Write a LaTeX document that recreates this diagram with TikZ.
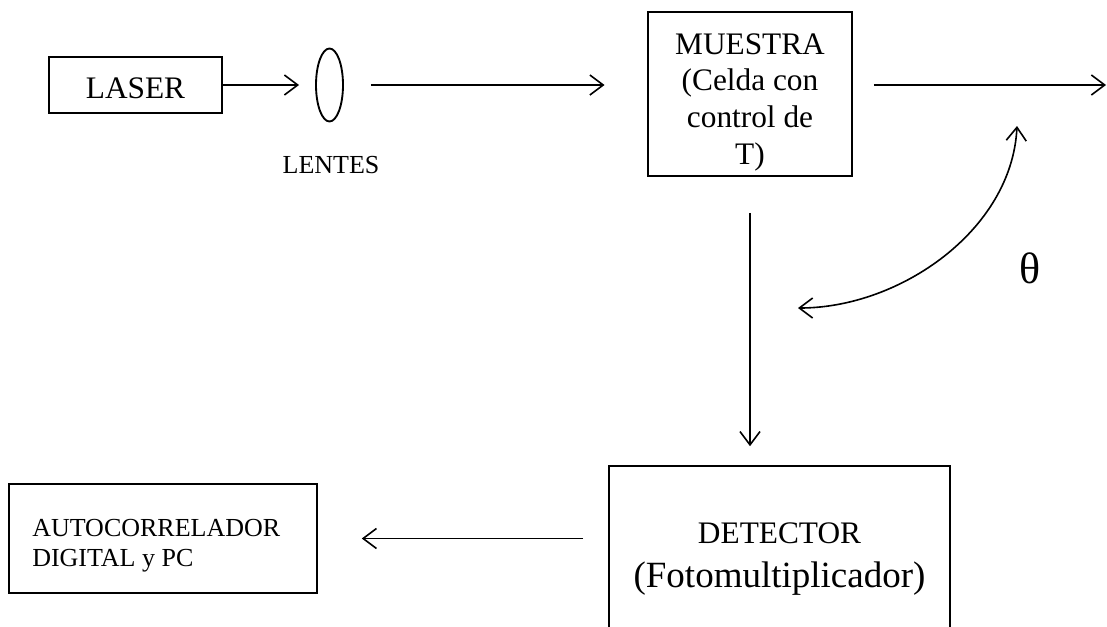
\documentclass[tikz,border=0pt]{standalone}
\usepackage{fontspec}
\setmainfont{Liberation Serif}
\usetikzlibrary{shapes.geometric,arrows.meta}
\tikzset{
  boxnode/.style={draw, line width=1.2pt, inner sep=0pt},
  txt/.style={inner sep=0pt, align=center},
  conn/.style={line width=1.2pt, -{Straight Barb[length=10pt,width=15pt,line width=1.2pt]}},
  dconn/.style={line width=1.2pt, {Straight Barb[length=10pt,width=15pt,line width=1.2pt]}-{Straight Barb[length=10pt,width=15pt,line width=1.2pt]}}
}
\begin{document}
\begin{tikzpicture}[x=0.75pt,y=-0.75pt]
\useasboundingbox (0,0) rectangle (1107,626);
\clip (0,0) rectangle (1107,626);
\fill[white] (0,0) rectangle (1107,626);
% boxes
\node[boxnode, minimum width=129.75pt, minimum height=42pt] (laser) at (135.5,85) {};
\node[draw, line width=1.4pt, ellipse, minimum width=20.25pt, minimum height=54.75pt, inner sep=0pt] (lens) at (329.5,85) {};
\node[boxnode, minimum width=153pt, minimum height=123pt] (muestra) at (750,94) {};
\node[boxnode, minimum width=255.75pt, minimum height=133.5pt] (detector) at (779.5,555) {};
\node[boxnode, minimum width=231pt, minimum height=81.75pt] (autocorr) at (163,538.5) {};
% texts
\node[txt, font=\fontsize{23.5}{27}\selectfont] (lasertext) at (135.5,88) {LASER};
\node[txt, font=\fontsize{19.5}{22}\selectfont] (lentes) at (331,165) {LENTES};
\node[txt, font=\fontsize{23.5}{27.5}\selectfont] (muestratext) at (750,102) {MUESTRA\\(Celda con\\control de\\T)};
\node[txt] (detectortext) at (779.5,559.5)
  {{\fontsize{23.5}{27}\selectfont DETECTOR}\\[12.5pt]{\fontsize{27.75}{31}\selectfont (Fotomultiplicador)}};
\node[txt, align=left, anchor=west, font=\fontsize{19.5}{22.5}\selectfont] (autocorrtext) at (32,545.5) {AUTOCORRELADOR\\DIGITAL y PC};
\node[txt, font=\fontsize{33}{36}\selectfont] (theta) at (1030,268) {θ};
% free ends
\coordinate (out) at (1106,85);
\coordinate (thA) at (798,308);
\coordinate (thB) at (1017,126);
% connectors
\draw[conn, shorten >=12pt] (laser.east) -- (laser.east -| lens.west);
\draw[conn, shorten <=20.25pt, shorten >=32pt] (lens.east) -- (lens.east -| muestra.west);
\draw[conn, shorten <=15.75pt] (muestra.east |- out) -- (out);
\draw[conn, shorten <=27pt, shorten >=14.25pt] (muestra.south) -- (muestra.south |- detector.north);
\draw[conn, shorten <=18.75pt, shorten >=33pt] (detector.west |- autocorr.east) -- (autocorr.east);
\draw[dconn] (thA) .. controls (900,308) and (1012,230) .. (thB);
\end{tikzpicture}
\end{document}
